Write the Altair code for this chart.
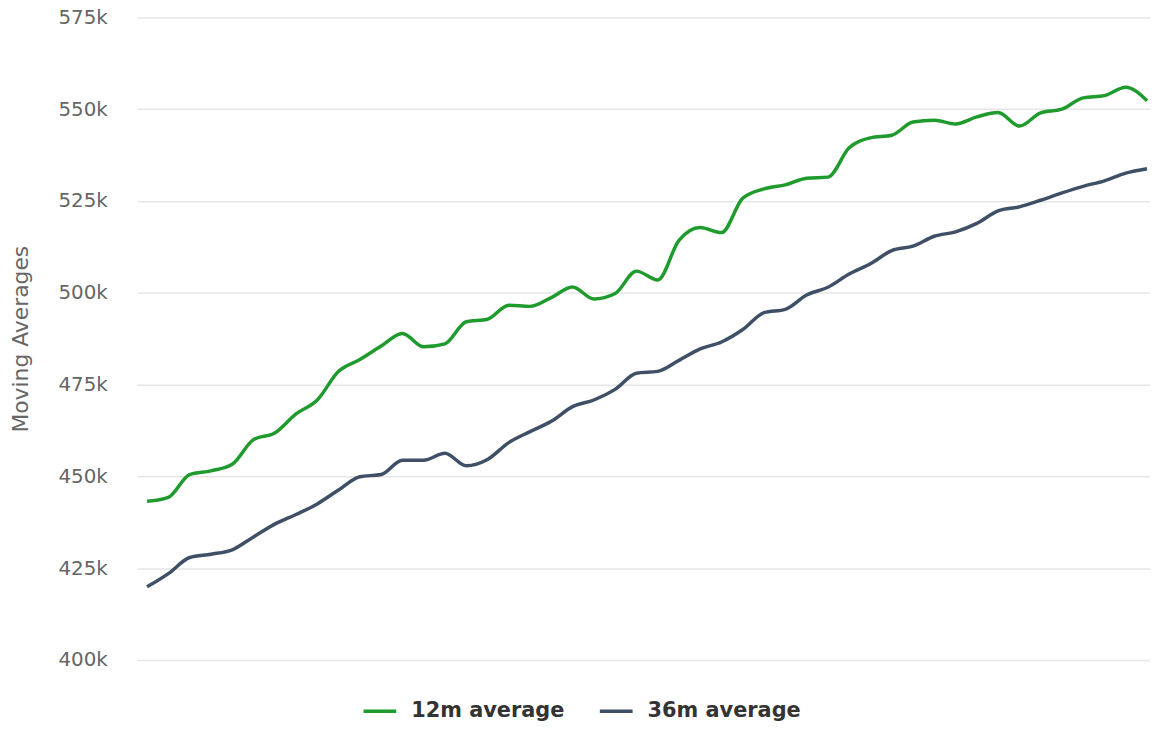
import altair as alt
import pandas as pd

series_names = ["12m average", "36m average"]
colors = ["#1f9a2c", "#3e4f66"]

avg_12m = [443.2, 444.3, 450.5, 451.5, 453.3, 460.0, 461.8, 467.0, 470.8, 478.6,
           481.8, 485.5, 488.9, 485.3, 486.1, 492.1, 492.8, 496.6, 496.3, 498.7,
           501.6, 498.3, 499.8, 505.9, 503.5, 514.3, 517.8, 516.4, 525.8, 528.3,
           529.4, 531.2, 531.5, 539.5, 542.2, 542.9, 546.5, 547.0, 546.0, 547.9,
           549.1, 545.4, 549.0, 550.0, 553.1, 553.7, 556.0, 552.3]

avg_36m = [419.9, 423.5, 427.9, 428.8, 430.0, 433.5, 437.0, 439.6, 442.5, 446.3,
           449.9, 450.5, 454.4, 454.4, 456.3, 452.9, 454.6, 459.2, 462.2, 465.0,
           469.0, 470.8, 473.7, 478.1, 478.6, 481.6, 484.7, 486.6, 490.0, 494.6,
           495.5, 499.4, 501.5, 505.1, 507.9, 511.5, 512.7, 515.4, 516.6, 518.9,
           522.3, 523.4, 525.2, 527.2, 529.0, 530.5, 532.6, 533.8]

y_ticks = [400000, 425000, 450000, 475000, 500000, 525000, 550000, 575000]

rows = []
for i, v in enumerate(avg_12m):
    rows.append({"i": i, "value": v * 1000, "series": series_names[0]})
for i, v in enumerate(avg_36m):
    rows.append({"i": i, "value": v * 1000, "series": series_names[1]})
df = pd.DataFrame(rows)

chart = alt.Chart(df).mark_line(
    interpolate="monotone", strokeWidth=3.5
).encode(
    x=alt.X("i:Q", scale=alt.Scale(domain=[-0.47, 47.14], nice=False, zero=False), axis=None),
    y=alt.Y(
        "value:Q",
        scale=alt.Scale(domain=[400000, 575000], nice=False, zero=False),
        axis=alt.Axis(
            values=y_ticks,
            labelExpr="datum.value / 1000 + 'k'",
            title="Moving Averages",
            titleFont="DejaVu Sans",
            titleFontSize=22,
            titleFontWeight="normal",
            titleColor="#666666",
            titlePadding=26,
            labelFont="DejaVu Sans",
            labelFontSize=20,
            labelColor="#666666",
            labelPadding=30,
            tickSize=0,
            domain=False,
            gridColor="#e6e6e6",
            gridWidth=1.5,
        ),
    ),
    color=alt.Color(
        "series:N",
        scale=alt.Scale(domain=series_names, range=colors),
        legend=alt.Legend(
            title=None,
            orient="none",
            direction="horizontal",
            legendX=226,
            legendY=680,
            padding=0,
            symbolType="stroke",
            symbolSize=1089,
            symbolStrokeWidth=3.5,
            labelFont="DejaVu Sans",
            labelFontSize=21,
            labelFontWeight="bold",
            labelColor="#333333",
            labelOffset=13,
            columnPadding=28,
        ),
    ),
).properties(
    width=1020,
    height=647,
    padding={"left": 130, "top": 7, "right": 0, "bottom": 60},
    autosize=alt.AutoSizeParams(type="none"),
).configure_view(stroke=None)

chart.save("out.html", embed_options={"renderer": "svg", "actions": False})
